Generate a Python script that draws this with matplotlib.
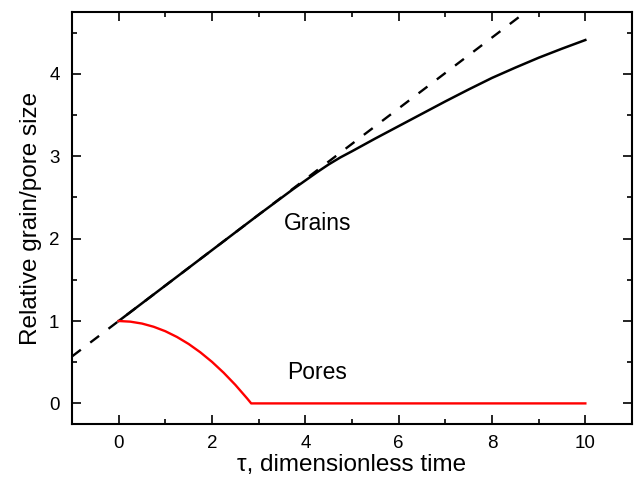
import numpy as np
import matplotlib.pyplot as plt
from matplotlib.ticker import MultipleLocator

plt.rcParams['font.family'] = ['Liberation Sans', 'DejaVu Sans']

# grain size (solid black)
grain_t = [0, 0.5, 1, 1.5, 2, 2.5, 3, 3.5, 3.75, 4, 4.25, 4.5, 4.75, 5, 5.5, 6, 6.5, 7, 7.5, 8, 8.5, 9, 9.5, 10]
grain_size = [1.0, 1.215, 1.43, 1.645, 1.86, 2.075, 2.29, 2.50, 2.605, 2.705, 2.805, 2.90, 2.985, 3.06,
              3.215, 3.365, 3.515, 3.665, 3.81, 3.95, 4.075, 4.195, 4.305, 4.41]

# initial linear growth (dashed)
lin_t = [-1, 11]
lin_size = [0.57, 5.73]

# pore size (red)
pore_t = [0, 0.25, 0.5, 0.75, 1.0, 1.25, 1.5, 1.75, 2.0, 2.25, 2.5, 2.75, 2.84, 10]
pore_size = [1.0, 0.992, 0.969, 0.93, 0.876, 0.806, 0.721, 0.62, 0.504, 0.372, 0.225, 0.062, 0.0, 0.0]

fig = plt.figure(figsize=(6.36, 4.82), dpi=100)
ax = fig.add_axes([72/636, 1 - 424/482, 560/636, 412/482])

ax.plot(lin_t, lin_size, color='black', lw=1.7, dashes=(4.7, 5.0))
ax.plot(grain_t, grain_size, color='black', lw=1.8)
ax.plot(pore_t, pore_size, color='red', lw=1.7)

ax.text(4.26, 2.11, 'Grains', fontsize=16.5, ha='center', va='baseline')
ax.text(4.26, 0.30, 'Pores', fontsize=16.5, ha='center', va='baseline')

ax.set_xlim(-1, 11)
ax.set_ylim(-0.25, 4.75)
ax.xaxis.set_major_locator(MultipleLocator(2))
ax.xaxis.set_minor_locator(MultipleLocator(1))
ax.yaxis.set_major_locator(MultipleLocator(1))
ax.yaxis.set_minor_locator(MultipleLocator(0.5))
ax.tick_params(which='both', direction='in', top=True, right=True, width=1.2, labelsize=13.5)
ax.tick_params(which='major', length=6.5)
ax.tick_params(which='minor', length=3.5)
ax.tick_params(axis='y', which='major', pad=9)
ax.tick_params(axis='x', which='major', pad=8)
for s in ax.spines.values():
    s.set_linewidth(1.5)

ax.set_xlabel('τ, dimensionless time', fontsize=17.5, labelpad=1)
ax.set_ylabel('Relative grain/pore size', fontsize=17.5, labelpad=5)

fig.savefig('out.png', dpi=100)
